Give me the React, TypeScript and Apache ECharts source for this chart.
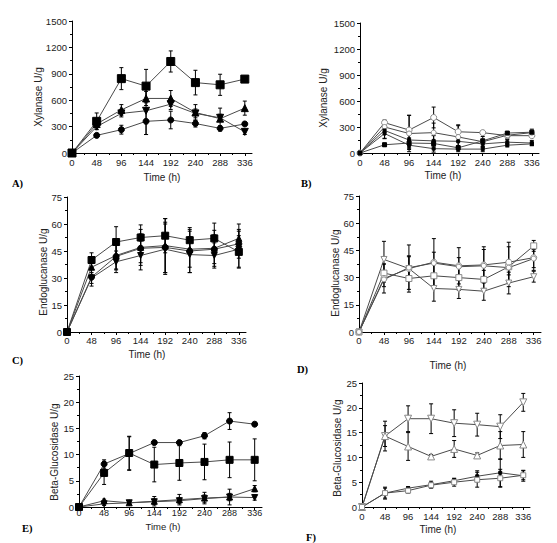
import React, { useEffect, useRef } from "react";
import * as echarts from "echarts";

// ---------- shared ----------
const TIMES = [0, 48, 96, 144, 192, 240, 288, 336];
const X_TICKS = [0, 48, 96, 144, 192, 240, 288, 336];
const X_NAME = "Time (h)";
const PANEL_LABELS = ["A)", "B)", "C)", "D)", "E)", "F)"];
const Y_NAMES = [
  "Xylanase U/g",
  "Xylanase U/g",
  "Endoglucanase U/g",
  "Endoglucanase U/g",
  "Beta-Glucosidase U/g",
  "Beta-Glucosidase U/g",
];
const Y_MAX = [1500, 1500, 75, 75, 25, 25];
const Y_INTERVAL = [300, 300, 15, 15, 5, 5];

// ---------- Panel A (Xylanase) ----------
const A_SQUARE = [0, 360, 845, 760, 1040, 800, 775, 840];
const A_SQUARE_ERR = [0, 95, 125, 190, 120, 140, 120, 20];
const A_TRI = [0, 330, 490, 620, 620, 460, 390, 510];
const A_TRI_ERR = [0, 40, 60, 80, 90, 90, 120, 80];
const A_DTRI = [0, 300, 450, 480, 555, 450, 400, 240];
const A_DTRI_ERR = [0, 30, 40, 270, 60, 50, 40, 30];
const A_CIRCLE = [0, 200, 265, 360, 375, 335, 280, 330];
const A_CIRCLE_ERR = [0, 20, 50, 150, 100, 40, 30, 20];

// ---------- Panel B (Xylanase) ----------
const B_S1 = [0, 350, 265, 410, 245, 235, 200, 200];
const B_S1_ERR = [0, 30, 170, 120, 70, 20, 20, 20];
const B_S2 = [0, 300, 225, 235, 185, 130, 205, 235];
const B_S2_ERR = [0, 60, 210, 110, 140, 60, 40, 40];
const B_S3 = [0, 260, 150, 140, 135, 105, 125, 115];
const B_S3_ERR = [0, 90, 90, 60, 50, 40, 30, 30];
const B_S4 = [0, 225, 90, 50, 45, 45, 90, 105];
const B_S4_ERR = [0, 60, 50, 40, 30, 30, 20, 20];
const B_S5 = [0, 95, 115, 110, 60, 140, 230, 240];
const B_S5_ERR = [0, 20, 60, 30, 20, 20, 10, 20];

// ---------- Panel C (Endoglucanase) ----------
const C_SQUARE = [0, 40, 50, 52.5, 53.5, 51, 52, 44.5];
const C_SQUARE_ERR = [0, 4, 8.5, 7, 9.5, 7, 8.5, 9];
const C_TRI = [0, 36, 42.5, 47, 48, 46, 46.5, 52];
const C_TRI_ERR = [0, 5, 8, 10, 15, 10, 10, 8];
const C_CIRCLE = [0, 30.5, 42, 46.5, 47, 45, 46, 49];
const C_CIRCLE_ERR = [0, 5, 7, 8, 14, 12, 8, 8];
const C_DTRI = [0, 30, 39, 42.5, 46, 43, 42.5, 46];
const C_DTRI_ERR = [0, 3, 6, 8, 14, 10, 7, 10];

// ---------- Panel D (Endoglucanase) ----------
const D_S1 = [0, 40, 35, 24, 23.5, 22.5, 27, 30.5];
const D_S1_ERR = [0, 10, 7, 7, 5, 5, 6, 3];
const D_S2 = [0, 32.5, 29.5, 31, 30, 29, 36, 47.5];
const D_S2_ERR = [0, 5, 6, 7, 7, 5, 11, 3];
const D_S3 = [0, 29.5, 35, 38.5, 36.5, 37, 38.5, 41];
const D_S3_ERR = [0, 8, 13, 13, 10, 10, 11, 7];
const D_S4 = [0, 29, 35.5, 38, 36, 36.5, 35.5, 40.5];
const D_S4_ERR = [0, 4, 6, 6, 5, 9, 4, 5];

// ---------- Panel E (Beta-Glucosidase) ----------
const E_CIRCLE = [0, 8.2, 10.2, 12.3, 12.3, 13.6, 16.4, 15.8];
const E_CIRCLE_ERR = [0, 0.8, 3.2, 0.3, 0.3, 0.6, 1.6, 0.3];
const E_SQUARE = [0, 6.5, 10.3, 8.1, 8.4, 8.6, 9.0, 9.0];
const E_SQUARE_ERR = [0, 2.2, 3.2, 3.3, 3.3, 3.4, 3.4, 4];
const E_TRI = [0, 1.2, 0.8, 1.1, 1.4, 1.7, 1.9, 3.5];
const E_TRI_ERR = [0, 0.3, 0.3, 0.9, 1, 1.1, 1.5, 0.6];
const E_DTRI = [0, 0.6, 0.8, 1.0, 1.2, 1.6, 1.9, 1.8];
const E_DTRI_ERR = [0, 0.3, 0.2, 0.5, 0.5, 0.7, 0.7, 0.5];

// ---------- Panel F (Beta-Glucosidase) ----------
const F_DTRI = [0, 14.3, 17.8, 17.8, 16.9, 16.6, 16.2, 21.1];
const F_DTRI_ERR = [0, 2.1, 2.6, 3, 2.7, 2.3, 2.4, 1.8];
const F_TRI = [0, 14.3, 12.2, 10.2, 11.7, 10.4, 12.4, 12.6];
const F_TRI_ERR = [0, 3, 2.8, 0.4, 1.7, 0.5, 2.8, 2.6];
const F_S3 = [0, 2.8, 3.8, 4.5, 5.3, 6.2, 6.9, 6.3];
const F_S3_ERR = [0, 1.2, 0.3, 0.7, 0.4, 1.1, 2.8, 1.1];
const F_S4 = [0, 2.8, 3.3, 4.4, 5.0, 5.5, 5.8, 6.4];
const F_S4_ERR = [0, 1.0, 0.5, 0.5, 0.8, 1.5, 1.8, 0.9];

// ---------- layout (pixels) ----------
const GRIDS = [
  { left: 72, top: 21, width: 180, height: 132 },
  { left: 360, top: 23, width: 179, height: 130 },
  { left: 67, top: 197, width: 179, height: 135 },
  { left: 359, top: 196, width: 182, height: 136 },
  { left: 79, top: 376, width: 183, height: 131 },
  { left: 362, top: 383, width: 168, height: 124 },
];
const X_LABEL_MARGIN = [4, 4, 3, 3, 1, 4];
const Y_NAME_POS = [
  [38, 97],
  [323, 98],
  [43, 272],
  [335, 273],
  [54, 452],
  [337, 448],
];
const X_NAME_POS = [
  [162, 177],
  [443, 175],
  [147, 354],
  [448, 365],
  [163, 526],
  [438, 529],
];
const LABEL_POS = [
  [12, 183],
  [301, 183],
  [12, 360],
  [297, 369],
  [22, 528],
  [306, 537],
];

const DOWN_TRI = "path://M0,0L10,0L5,9Z";
const UP_TRI = "path://M5,0L10,9L0,9Z";
const FILLED = { color: "#000", borderColor: "#000", borderWidth: 1 };
const OPEN = { color: "#fff", borderColor: "#8a8a8a", borderWidth: 1 };

type Def = { v: number[]; e: number[]; symbol: string; size: number; style: any };

const PANELS: Def[][] = [
  [
    { v: A_SQUARE, e: A_SQUARE_ERR, symbol: "rect", size: 8, style: FILLED },
    { v: A_TRI, e: A_TRI_ERR, symbol: UP_TRI, size: 7, style: FILLED },
    { v: A_DTRI, e: A_DTRI_ERR, symbol: DOWN_TRI, size: 7, style: FILLED },
    { v: A_CIRCLE, e: A_CIRCLE_ERR, symbol: "circle", size: 6, style: FILLED },
  ],
  [
    { v: B_S1, e: B_S1_ERR, symbol: "circle", size: 6, style: OPEN },
    { v: B_S2, e: B_S2_ERR, symbol: "circle", size: 5, style: OPEN },
    { v: B_S3, e: B_S3_ERR, symbol: "rect", size: 3, style: FILLED },
    { v: B_S4, e: B_S4_ERR, symbol: "rect", size: 3, style: FILLED },
    { v: B_S5, e: B_S5_ERR, symbol: "rect", size: 4, style: FILLED },
  ],
  [
    { v: C_SQUARE, e: C_SQUARE_ERR, symbol: "rect", size: 7, style: FILLED },
    { v: C_TRI, e: C_TRI_ERR, symbol: UP_TRI, size: 6, style: FILLED },
    { v: C_CIRCLE, e: C_CIRCLE_ERR, symbol: "circle", size: 6, style: FILLED },
    { v: C_DTRI, e: C_DTRI_ERR, symbol: DOWN_TRI, size: 6, style: FILLED },
  ],
  [
    { v: D_S1, e: D_S1_ERR, symbol: DOWN_TRI, size: 6, style: OPEN },
    { v: D_S2, e: D_S2_ERR, symbol: "rect", size: 6, style: OPEN },
    { v: D_S3, e: D_S3_ERR, symbol: "circle", size: 6, style: OPEN },
    { v: D_S4, e: D_S4_ERR, symbol: "circle", size: 5, style: OPEN },
  ],
  [
    { v: E_CIRCLE, e: E_CIRCLE_ERR, symbol: "circle", size: 6, style: FILLED },
    { v: E_SQUARE, e: E_SQUARE_ERR, symbol: "rect", size: 7, style: FILLED },
    { v: E_TRI, e: E_TRI_ERR, symbol: UP_TRI, size: 6, style: FILLED },
    { v: E_DTRI, e: E_DTRI_ERR, symbol: DOWN_TRI, size: 6, style: FILLED },
  ],
  [
    { v: F_DTRI, e: F_DTRI_ERR, symbol: DOWN_TRI, size: 7, style: OPEN },
    { v: F_TRI, e: F_TRI_ERR, symbol: UP_TRI, size: 7, style: OPEN },
    { v: F_S3, e: F_S3_ERR, symbol: "rect", size: 3, style: FILLED },
    { v: F_S4, e: F_S4_ERR, symbol: "rect", size: 5, style: OPEN },
  ],
];

const FONT = "'Liberation Sans', Arial, sans-serif";

function errRender(params: any, api: any) {
  const x = api.value(0);
  const lo = api.value(1);
  const hi = api.value(2);
  const t = api.coord([x, hi]);
  const b = api.coord([x, lo]);
  const w = 2;
  const st = { stroke: "#000", lineWidth: 1 };
  return {
    type: "group",
    children: [
      { type: "line", shape: { x1: t[0], y1: t[1], x2: b[0], y2: b[1] }, style: st },
      { type: "line", shape: { x1: t[0] - w, y1: t[1], x2: t[0] + w, y2: t[1] }, style: st },
      { type: "line", shape: { x1: b[0] - w, y1: b[1], x2: b[0] + w, y2: b[1] }, style: st },
    ],
  };
}

function buildOption() {
  const xAxis: any[] = [];
  const yAxis: any[] = [];
  const series: any[] = [];
  const axisLine = { show: true, onZero: false, lineStyle: { color: "#000", width: 1 } };
  GRIDS.forEach((_, i) => {
    xAxis.push({
      type: "value",
      gridIndex: i,
      min: 0,
      max: 350,
      interval: 48,
      axisLine,
      axisTick: { show: true, length: 3, customValues: X_TICKS, lineStyle: { color: "#000" } },
      minorTick: { show: true, splitNumber: 2, length: 2, lineStyle: { color: "#000" } },
      axisLabel: {
        customValues: X_TICKS,
        margin: X_LABEL_MARGIN[i],
        fontFamily: FONT,
        fontSize: i === 4 ? 9 : 9.5,
        color: "#222",
        formatter: (v: number) => String(v),
      },
      splitLine: { show: false },
    });
    yAxis.push({
      type: "value",
      gridIndex: i,
      min: 0,
      max: Y_MAX[i],
      interval: Y_INTERVAL[i],
      axisLine,
      axisTick: { show: true, length: 3, lineStyle: { color: "#000" } },
      minorTick: { show: true, splitNumber: 2, length: 2, lineStyle: { color: "#000" } },
      axisLabel: {
        margin: 5,
        fontFamily: FONT,
        fontSize: 9.5,
        color: "#222",
        formatter: (v: number) => String(v),
      },
      splitLine: { show: false },
    });
    PANELS[i].forEach((d) => {
      series.push({
        type: "custom",
        xAxisIndex: i,
        yAxisIndex: i,
        z: 2,
        silent: true,
        renderItem: errRender,
        encode: { x: 0, y: [1, 2] },
        data: TIMES.map((t, k) => [t, d.v[k] - d.e[k], d.v[k] + d.e[k]]).filter(
          (_, k) => d.e[k] > 0
        ),
      });
      series.push({
        type: "line",
        xAxisIndex: i,
        yAxisIndex: i,
        z: 3,
        symbol: d.symbol,
        symbolSize: d.size,
        showSymbol: true,
        lineStyle: { color: "#4a4a4a", width: 1 },
        itemStyle: d.style,
        data: TIMES.map((t, k) => [t, d.v[k]]),
      });
    });
  });
  const graphic: any[] = [];
  PANEL_LABELS.forEach((lab, i) => {
    graphic.push({
      type: "text",
      x: LABEL_POS[i][0],
      y: LABEL_POS[i][1],
      style: {
        text: lab,
        x: 0,
        y: 0,
        verticalAlign: "middle",
        align: "left",
        font: "bold 10.5px 'Liberation Serif', 'Times New Roman', serif",
        fill: "#000",
      },
    });
    graphic.push({
      type: "text",
      x: Y_NAME_POS[i][0],
      y: Y_NAME_POS[i][1],
      rotation: Math.PI / 2,
      style: {
        text: Y_NAMES[i],
        x: 0,
        y: 0,
        align: "center",
        verticalAlign: "middle",
        font: `10px ${FONT}`,
        fill: "#222",
      },
    });
    graphic.push({
      type: "text",
      x: X_NAME_POS[i][0],
      y: X_NAME_POS[i][1],
      style: {
        text: X_NAME,
        x: 0,
        y: 0,
        align: "center",
        verticalAlign: "middle",
        font: `${i === 4 ? 9.5 : 10}px ${FONT}`,
        fill: "#222",
      },
    });
  });
  return {
    animation: false,
    backgroundColor: "#fff",
    grid: GRIDS.map((g) => ({ ...g, containLabel: false })),
    xAxis,
    yAxis,
    series,
    graphic,
  };
}

export default function App() {
  const ref = useRef<HTMLDivElement>(null);
  useEffect(() => {
    if (!ref.current) return;
    const chart = echarts.init(ref.current, undefined, { renderer: "svg" });
    chart.setOption(buildOption() as any);
    return () => chart.dispose();
  }, []);
  return (
    <div
      ref={ref}
      style={{ position: "absolute", left: 0, top: 0, width: 557, height: 543, background: "#fff" }}
    />
  );
}
